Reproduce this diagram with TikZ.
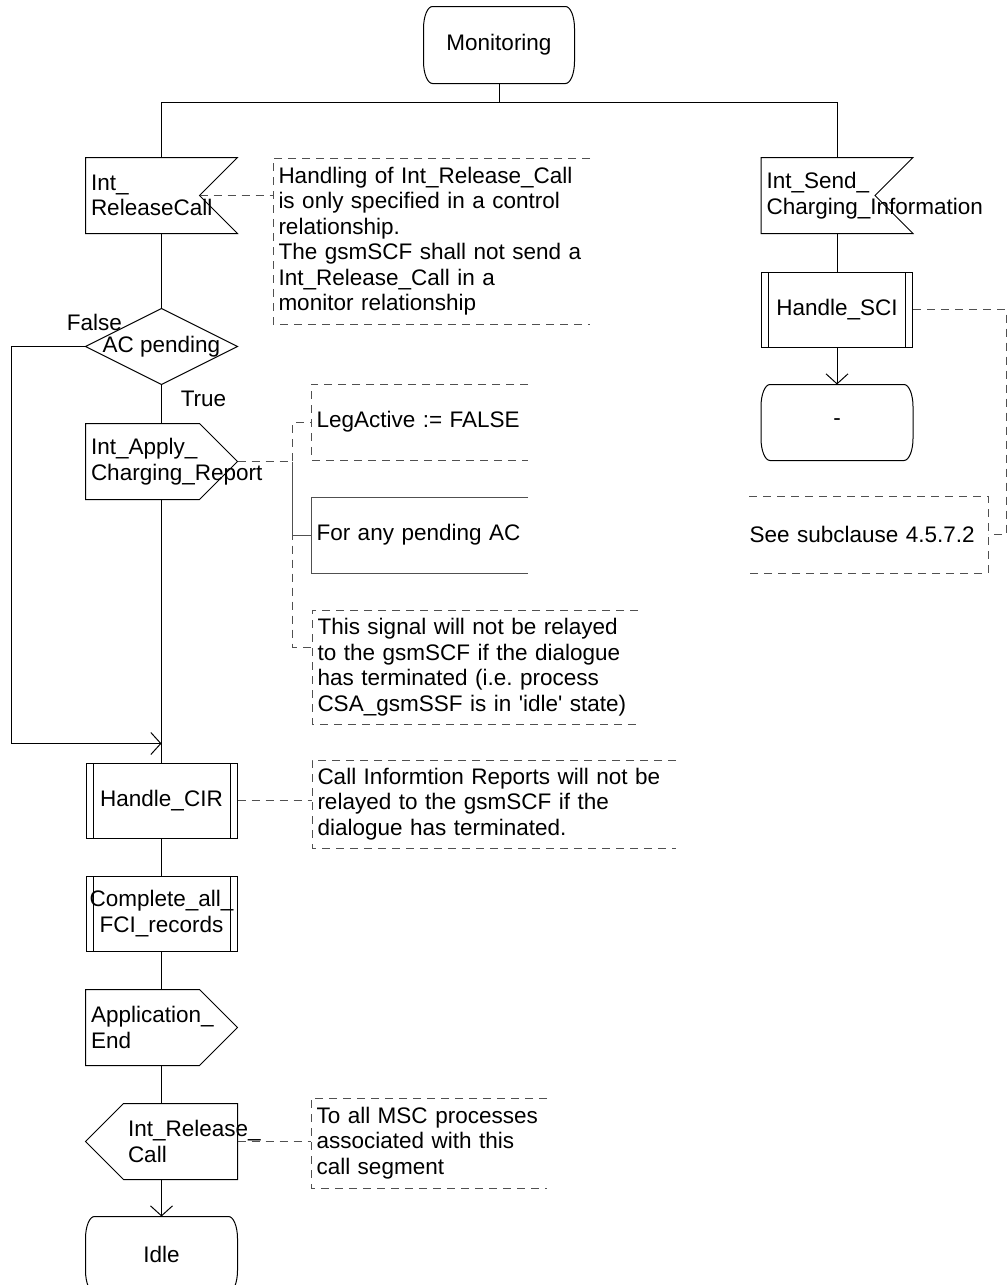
\documentclass[tikz,border=0pt]{standalone}
\usepackage{fontspec}
\setmainfont{Liberation Sans}
\usepackage{tikz}
\usetikzlibrary{positioning,arrows.meta,calc}
\definecolor{ink}{HTML}{000000}
\definecolor{notegray}{HTML}{505050}
\hyphenpenalty=10000
\exhyphenpenalty=10000
\frenchspacing
\newcommand{\sdlfont}{\fontsize{22.5pt}{25.5pt}\selectfont}
\newcommand{\sdlstate}[1]{%
  \draw[ink] ([xshift=9pt]#1.north west) -- ([xshift=-9pt]#1.north east)
    arc[start angle=90, end angle=0, x radius=9pt, y radius=22pt]
    -- ([yshift=22pt]#1.south east)
    arc[start angle=0, end angle=-90, x radius=9pt, y radius=22pt]
    -- ([xshift=9pt]#1.south west)
    arc[start angle=270, end angle=180, x radius=9pt, y radius=22pt]
    -- ([yshift=-22pt]#1.north west)
    arc[start angle=180, end angle=90, x radius=9pt, y radius=22pt] -- cycle;}
\newcommand{\sdlinput}[1]{\draw[ink] (#1.north west) -- (#1.north east) -- ([xshift=-38pt]#1.east) -- (#1.south east) -- (#1.south west) -- cycle;}
\newcommand{\sdloutput}[1]{\draw[ink] (#1.north west) -- ([xshift=-38pt]#1.north east) -- (#1.east) -- ([xshift=-38pt]#1.south east) -- (#1.south west) -- cycle;}
\newcommand{\sdloutputleft}[1]{\draw[ink] ([xshift=38pt]#1.north west) -- (#1.north east) -- (#1.south east) -- ([xshift=38pt]#1.south west) -- (#1.west) -- cycle;}
\newcommand{\sdldecision}[1]{\draw[ink] (#1.north) -- (#1.east) -- (#1.south) -- (#1.west) -- cycle;}
\newcommand{\sdlnote}[2]{\draw[#1] (#2.north east) -- (#2.north west) -- (#2.south west) -- (#2.south east);}
\newcommand{\sdlnoteright}[2]{\draw[#1] (#2.north west) -- (#2.north east) -- (#2.south east) -- (#2.south west);}
\tikzset{
  sdlbox/.style={rectangle, minimum width=151pt, minimum height=75pt, inner sep=0pt,
                 font=\sdlfont},
  sdlleft/.style={sdlbox, text width=141pt, align=left},
  procbox/.style={sdlbox, draw=ink, align=center, path picture={
      \draw[ink] ([xshift=7pt]path picture bounding box.north west) -- ([xshift=7pt]path picture bounding box.south west);
      \draw[ink] ([xshift=-7pt]path picture bounding box.north east) -- ([xshift=-7pt]path picture bounding box.south east);}},
  comment/.style={rectangle, anchor=north west, inner xsep=5pt, inner ysep=0pt,
                  align=left, font=\sdlfont},
  branchtext/.style={font=\sdlfont, inner sep=0pt},
  flow/.style={-{Straight Barb[length=10pt,width=22pt]}, draw=ink},
  noteline/.style={draw=notegray, dash pattern=on 8pt off 6pt},
  notesolid/.style={draw=notegray}
}
\begin{document}
\begin{tikzpicture}[node distance=38pt, line width=1pt]
\useasboundingbox (0,0) rectangle (1007pt,-1285pt);
\node[sdlbox, minimum width=150pt, minimum height=76pt] (monitoring) at (499pt,-45pt) {Monitoring};
\node[sdlleft] (relcallin) at (161.5pt,-195.5pt) {Int\_\\ReleaseCall};
\node[sdlbox, below=75pt of relcallin] (acpending) {AC pending};
\node[sdlleft, below=39pt of acpending] (applyrep) {Int\_Apply\_\\Charging\_Report};
\node[procbox, below=263pt of applyrep] (handlecir) {Handle\_CIR};
\node[procbox, below=37pt of handlecir] (completefci) {Complete\_all\_\\FCI\_records};
\node[sdlleft, below=of completefci] (appl) {Application\_\\End};
\node[sdlleft, below=of appl] (relcallout) {\hspace*{37pt}Int\_Release\_\\\hspace*{37pt}Call};
\node[sdlbox, below=37pt of relcallout] (idle) {Idle};
\node[sdlleft] (sendchg) at (837pt,-195.5pt) {Int\_Send\_\\Charging\_Information};
\node[procbox, below=of sendchg] (handlesci) {Handle\_SCI};
\node[sdlbox, below=37pt of handlesci] (samestate) {-};

\node[comment, text width=306pt, minimum height=165pt] (relnote) at (273pt,-158pt)
  {Handling of Int\_Release\_Call\\is only specified in a control\\relationship.\\The gsmSCF shall not send a\\Int\_Release\_Call in a\\monitor relationship};
\node[comment, text width=206pt, minimum height=75pt] (legnote) at (311pt,-384pt) {LegActive := FALSE};
\node[comment, text width=206pt, minimum height=75pt] (pendnote) at (311pt,-497pt) {For any pending AC};
\node[comment, text width=315pt, minimum height=113pt] (signote) at (312pt,-610pt)
  {This signal will not be relayed\\to the gsmSCF if the dialogue\\has terminated (i.e. process\\CSA\_gsmSSF is in \textquotesingle idle\textquotesingle{} state)};
\node[comment, text width=353pt, minimum height=87pt] (cirnote) at (312pt,-760pt)
  {Call Informtion Reports will not be\\relayed to the gsmSCF if the\\dialogue has terminated.};
\node[comment, text width=225pt, minimum height=89pt] (mscnote) at (311pt,-1098pt)
  {To all MSC processes\\associated with this\\call segment};
\node[comment, inner xsep=0pt, text width=238pt, minimum height=76pt] (scinote) at (749pt,-496pt) {See subclause 4.5.7.2};

\sdlstate{monitoring}
\sdlinput{relcallin}
\sdldecision{acpending}
\sdloutput{applyrep}
\sdloutput{appl}
\sdloutputleft{relcallout}
\sdlstate{idle}
\sdlinput{sendchg}
\sdlstate{samestate}
\sdlnote{noteline}{relnote}
\sdlnote{noteline}{legnote}
\sdlnote{notesolid}{pendnote}
\sdlnote{noteline}{signote}
\sdlnote{noteline}{cirnote}
\sdlnote{noteline}{mscnote}
\sdlnoteright{noteline}{scinote}

\node[branchtext] (falsetxt) at ([shift={(9pt,24pt)}]acpending.west) {False};
\node[branchtext] (truetxt) at ([shift={(42pt,-14pt)}]acpending.south) {True};

\coordinate[below=19pt of monitoring] (fork);
\coordinate[above=19pt of handlecir] (merge);
\coordinate (fan) at ([xshift=55pt]applyrep.east);
\draw[ink] (monitoring.south) -- (fork);
\draw[ink] (relcallin) |- (fork) -| (sendchg);
\draw[ink] (relcallin) -- (acpending);
\draw[ink] (acpending) -- (applyrep);
\draw[ink] (applyrep) -- (handlecir);
\draw[flow] (acpending.west) -- ++(-74pt,0) |- (merge);
\draw[ink] (handlecir) -- (completefci);
\draw[ink] (completefci) -- (appl);
\draw[ink] (appl) -- (relcallout);
\draw[flow] (relcallout) -- (idle);
\draw[ink] (sendchg) -- (handlesci);
\draw[flow] (handlesci) -- (samestate);

\draw[noteline] ([xshift=-38pt]relcallin.east) -- (relcallin.east -| relnote.west);
\draw[noteline] (applyrep.east) -- (fan) |- (legnote.west);
\draw[notesolid] (fan) |- (pendnote.west);
\draw[noteline] (fan) |- ([yshift=-37pt]signote.north west);
\draw[noteline] (handlecir.east) -- (handlecir.east -| cirnote.west);
\draw[noteline] (relcallout.east) -- (relcallout.east -| mscnote.west);
\draw[noteline] (handlesci.east) -- ++(93pt,0) |- (scinote.east);
\end{tikzpicture}
\end{document}
